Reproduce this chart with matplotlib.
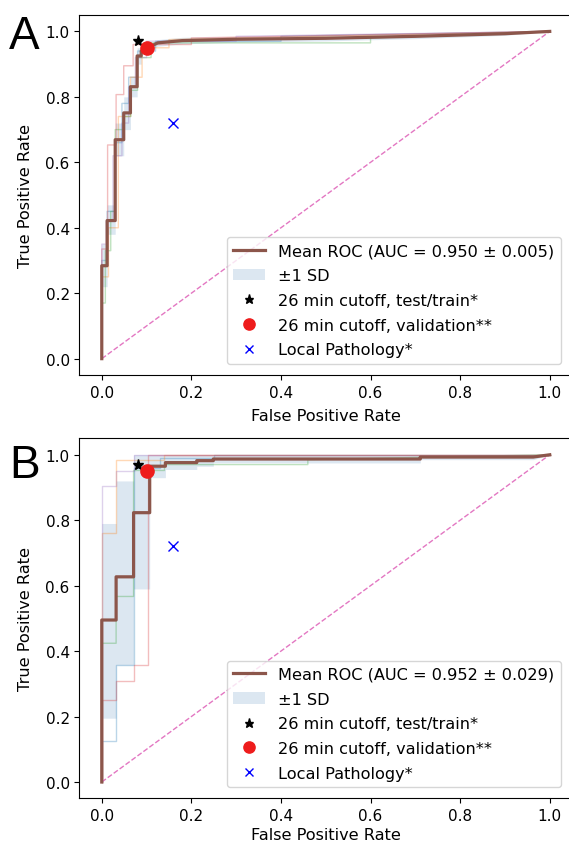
import matplotlib
matplotlib.use("Agg")
import matplotlib.pyplot as plt

# ---- panel A data ----
a_folds = [
    ([0, 0, 0.012, 0.012, 0.03, 0.03, 0.045, 0.045, 0.06, 0.06, 0.08, 0.08, 0.12, 0.12, 0.4, 0.4, 1.0],
     [0, 0.30, 0.30, 0.45, 0.45, 0.66, 0.66, 0.78, 0.78, 0.86, 0.86, 0.94, 0.94, 0.97, 0.97, 0.985, 1.0]),
    ([0, 0, 0.015, 0.015, 0.037, 0.037, 0.064, 0.064, 0.09, 0.09, 0.15, 0.15, 1.0],
     [0, 0.25, 0.25, 0.40, 0.40, 0.74, 0.74, 0.86, 0.86, 0.95, 0.95, 0.975, 1.0]),
    ([0, 0, 0.008, 0.008, 0.02, 0.02, 0.03, 0.03, 0.05, 0.05, 0.065, 0.065, 0.08, 0.08, 0.11, 0.11, 0.6, 0.6, 1.0],
     [0, 0.17, 0.17, 0.33, 0.33, 0.45, 0.45, 0.70, 0.70, 0.74, 0.74, 0.82, 0.82, 0.92, 0.92, 0.965, 0.965, 0.98, 1.0]),
    ([0, 0, 0.013, 0.013, 0.032, 0.032, 0.049, 0.049, 0.07, 0.07, 0.2, 0.2, 1.0],
     [0, 0.335, 0.335, 0.653, 0.653, 0.807, 0.807, 0.895, 0.895, 0.96, 0.96, 0.98, 1.0]),
    ([0, 0, 0.01, 0.01, 0.025, 0.025, 0.045, 0.045, 0.06, 0.06, 0.075, 0.075, 0.1, 0.1, 0.3, 0.3, 1.0],
     [0, 0.35, 0.35, 0.42, 0.42, 0.62, 0.62, 0.72, 0.72, 0.83, 0.83, 0.92, 0.92, 0.97, 0.97, 0.985, 1.0]),
]
a_mean_fpr = [0, 0, 0.012, 0.012, 0.030, 0.030, 0.049, 0.049, 0.064, 0.064, 0.079, 0.079, 0.088, 0.088,
              0.10, 0.11, 0.125, 0.18, 0.3, 0.5, 0.7, 0.9, 1.0]
a_mean_tpr = [0, 0.284, 0.284, 0.422, 0.422, 0.669, 0.669, 0.751, 0.751, 0.831, 0.831, 0.925, 0.925, 0.94,
              0.945, 0.955, 0.965, 0.972, 0.976, 0.979, 0.985, 0.993, 1.0]
a_lower = [0, 0.22, 0.22, 0.38, 0.38, 0.62, 0.62, 0.70, 0.70, 0.80, 0.80, 0.90, 0.90, 0.93,
           0.935, 0.945, 0.955, 0.962, 0.967, 0.971, 0.978, 0.988, 1.0]
a_upper = [0, 0.35, 0.35, 0.47, 0.47, 0.72, 0.72, 0.80, 0.80, 0.86, 0.86, 0.95, 0.95, 0.955,
           0.957, 0.965, 0.975, 0.982, 0.985, 0.987, 0.992, 0.998, 1.0]
a_auc = "0.950 ± 0.005"

# ---- panel B data ----
b_folds = [
    ([0, 0, 0.032, 0.032, 0.071, 0.071, 0.13, 0.13, 0.25, 0.25, 1.0],
     [0, 0.124, 0.124, 0.358, 0.358, 0.96, 0.96, 0.99, 0.99, 1.0, 1.0]),
    ([0, 0, 0.032, 0.032, 0.14, 0.14, 1.0],
     [0, 0.76, 0.76, 0.983, 0.983, 1.0, 1.0]),
    ([0, 0, 0.032, 0.032, 0.071, 0.071, 0.14, 0.14, 0.46, 0.46, 1.0],
     [0, 0.424, 0.424, 0.567, 0.567, 0.952, 0.952, 0.97, 0.97, 0.985, 1.0]),
    ([0, 0, 0.032, 0.032, 0.071, 0.071, 0.104, 0.104, 1.0],
     [0, 0.25, 0.25, 0.31, 0.31, 0.358, 0.358, 1.0, 1.0]),
    ([0, 0, 0.032, 0.032, 0.071, 0.071, 1.0],
     [0, 0.906, 0.906, 0.95, 0.95, 1.0, 1.0]),
]
b_mean_fpr = [0, 0, 0.032, 0.032, 0.071, 0.071, 0.107, 0.107, 0.142, 0.142, 0.212, 0.212,
              0.249, 0.249, 0.711, 0.711, 0.963, 1.0]
b_mean_tpr = [0, 0.495, 0.495, 0.627, 0.627, 0.823, 0.823, 0.965, 0.965, 0.976, 0.976, 0.982,
              0.982, 0.987, 0.987, 0.993, 0.993, 1.0]
b_lower = [0, 0.195, 0.195, 0.358, 0.358, 0.59, 0.59, 0.93, 0.93, 0.955, 0.955, 0.965,
           0.965, 0.975, 0.975, 0.985, 0.985, 1.0]
b_upper = [0, 0.79, 0.79, 0.92, 0.92, 1.0, 1.0, 1.0, 1.0, 1.0, 1.0, 1.0,
           1.0, 1.0, 1.0, 1.0, 1.0, 1.0]
b_auc = "0.952 ± 0.029"

# ---- shared markers ----
cutoff_train = (0.08, 0.97)
cutoff_val = (0.10, 0.95)
local_path = (0.16, 0.72)

fold_colors = ["tab:blue", "tab:orange", "tab:green", "tab:red", "tab:purple"]

plt.rcParams["font.size"] = 11


def draw_panel(ax, folds, mean_fpr, mean_tpr, lower, upper, auc_text, xpad):
    for (fpr, tpr), c in zip(folds, fold_colors):
        ax.plot(fpr, tpr, color=c, lw=1, alpha=0.3)
    ax.plot([0, 1], [0, 1], linestyle="--", lw=1, color="#e377c2")
    ax.plot(mean_fpr, mean_tpr, color="#8c564b", lw=2.3,
            label=f"Mean ROC (AUC = {auc_text})")
    ax.fill_between(mean_fpr, lower, upper, color="#c6d7e8", alpha=0.6, lw=0,
                    label="±1 SD")
    ax.plot(*cutoff_train, marker="*", color="black", ls="none", ms=8,
            label="26 min cutoff, test/train*")
    ax.plot(*cutoff_val, marker="o", color="#ee1c1c", ls="none", ms=9.5,
            label="26 min cutoff, validation**")
    ax.plot(*local_path, marker="x", color="blue", ls="none", ms=7,
            label="Local Pathology*")
    ax.set_xlim(-0.05, 1.05)
    ax.set_ylim(-0.05, 1.05)
    ax.set_xlabel("False Positive Rate", fontsize=11.6, labelpad=xpad)
    ax.set_ylabel("True Positive Rate", fontsize=11.6, labelpad=9)
    ax.legend(loc="lower right", borderaxespad=0.7, fontsize=11.6,
              markerscale=0.85, labelspacing=0.6)


fig = plt.figure(figsize=(5.69, 8.45), dpi=100)
ax_a = fig.add_axes([0.1395, 0.555, 0.866, 0.426])
ax_b = fig.add_axes([0.1395, 0.054, 0.866, 0.426])

draw_panel(ax_a, a_folds, a_mean_fpr, a_mean_tpr, a_lower, a_upper, a_auc, 6)
draw_panel(ax_b, b_folds, b_mean_fpr, b_mean_tpr, b_lower, b_upper, b_auc, 2.5)

fig.text(0.016, 0.942, "A", fontsize=33, family="Liberation Sans", va="baseline")
fig.text(0.016, 0.434, "B", fontsize=33, family="Liberation Sans", va="baseline")

fig.savefig("out.png", dpi=100)
plt.close(fig)
